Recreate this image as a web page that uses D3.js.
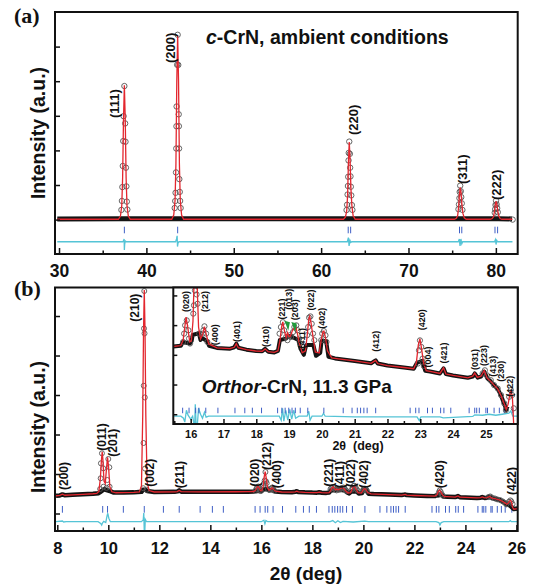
<!DOCTYPE html>
<html>
<head>
<meta charset="utf-8">
<script src="https://cdn.jsdelivr.net/npm/d3@7"></script>
<style>
body { margin: 0; background: #fff; }
text { font-family: "Liberation Sans", Arial, sans-serif; font-weight: bold; }
</style>
</head>
<body>
<svg id="fig" width="536" height="586"></svg>
<script>
// ---------- panel (a) : c-CrN, ambient conditions ----------
var tickA = [30, 40, 50, 60, 70, 80];
var minorA = [35, 45, 55, 65, 75];
var yTickA = [0, 1000, 2000, 3000, 4000, 5000];
var braggA = [37.48, 43.58, 63.10, 63.38, 75.84, 76.10, 79.90, 80.20];
var braggRowA = [-396, -205];
var bandA = [[29.8,20],[37.2,25],[37.75,25],[43.3,28],[43.9,28],[62.95,28],[63.55,28],[75.7,28],[76.2,28],[79.8,25],[80.3,25],[81.85,20]];
var calcA = [[29.8,10],
  [36.8,10],[37.03,100],[37.18,400],[37.28,1200],[37.38,2900],[37.48,3880],[37.58,2900],[37.68,1200],[37.78,400],[37.93,100],[38.16,10],
  [42.9,10],[43.13,130],[43.28,550],[43.38,1600],[43.48,4000],[43.58,5330],[43.68,4000],[43.78,1600],[43.88,550],[44.03,130],[44.26,10],
  [62.55,10],[62.78,70],[62.93,250],[63.03,700],[63.13,1700],[63.22,2240],[63.31,1750],[63.41,900],[63.52,400],[63.66,120],[63.9,10],
  [75.25,10],[75.48,40],[75.63,120],[75.73,350],[75.83,720],[75.92,930],[76.02,760],[76.12,420],[76.23,180],[76.38,50],[76.6,10],
  [79.35,10],[79.58,30],[79.73,80],[79.83,220],[79.93,420],[80.02,530],[80.12,430],[80.22,250],[80.33,110],[80.48,30],[80.7,10],
  [81.9,10]];
var obsA = [[37.48,3860],[37.39,2990],[37.57,2780],[37.35,2270],[37.61,2250],[37.30,1550],[37.66,1500],[37.25,940],[37.71,960],[37.20,540],[37.76,520],[37.14,280],[37.82,290],
  [43.58,5341],[43.52,4474],[43.65,4470],[43.46,3269],[43.70,3043],[43.44,2697],[43.72,2700],[43.42,2055],[43.74,2055],[43.39,1364],[43.77,1170],[43.34,775],[43.82,800],[43.30,537],[43.86,540],[43.24,335],[43.92,335],
  [63.22,2254],[63.16,1928],[63.29,1900],[63.14,1711],[63.32,1500],[63.10,1237],[63.36,1250],[63.07,971],[63.40,950],[63.03,725],[63.45,700],[62.97,428],[63.52,420],[62.91,277],[63.58,280],
  [75.92,980],[75.86,800],[75.99,820],[75.83,620],[76.04,650],[75.78,440],[76.10,470],[75.72,300],[76.17,280],
  [80.02,546],[79.96,422],[80.09,440],[79.92,300],[80.15,330],[79.87,200],[80.22,214],
  [81.92,0]];
var diffA = [[29.8,-640],[37.3,-640],[37.4,-600],[37.45,-560],[37.48,-880],[37.52,-700],[37.6,-620],[37.7,-640],
  [43.35,-640],[43.45,-560],[43.52,-470],[43.56,-780],[43.62,-680],[43.72,-640],
  [63.0,-640],[63.12,-520],[63.2,-760],[63.3,-600],[63.4,-660],[63.5,-640],
  [75.7,-640],[75.82,-560],[75.9,-760],[76.0,-560],[76.1,-700],[76.2,-640],
  [79.85,-640],[79.95,-580],[80.02,-720],[80.1,-600],[80.2,-640],[81.9,-640]];
var hklA = [["(111)",36.30,2936],["(200)",42.71,4526],["(220)",63.66,2445],["(311)",76.19,1029],["(222)",80.10,566]];

// ---------- panel (b) : orthorhombic CrN, 11.3 GPa ----------
var tickB = [8, 10, 12, 14, 16, 18, 20, 22, 24, 26];
var minorB = [9, 11, 13, 15, 17, 19, 21, 23, 25];
var yTickB = [0, 1000, 2000, 3000, 4000, 5000];
var braggB = [8.2, 9.78, 9.97, 10.59, 11.41, 12.16, 12.78, 13.6, 14.08, 14.51, 15.755, 15.95, 16.15, 16.25, 16.46, 16.83,
  17.35, 17.65, 17.88, 18.16, 18.65, 18.78, 18.88, 18.99, 19.09, 19.19, 19.34, 19.57, 20.06, 20.65, 20.92, 21.08, 21.18,
  21.28, 21.38, 21.64, 22.69, 22.86, 22.96, 23.22, 23.37, 23.62, 23.72, 23.93, 24.49, 24.66, 24.72, 24.80, 25.0, 25.05,
  25.25, 25.41, 25.56, 25.82];
var braggRowB = [20, 190];
var bandB = [[7.95,450],[8.1,458],[8.2,482],[8.3,462],[8.6,472],[9.0,485],[9.4,500],[9.62,515],[9.68,540],[9.85,620],[9.9,600],
  [10.1,560],[10.2,530],[10.6,530],[11.0,535],[11.3,548],[11.36,600],[11.46,600],[11.52,570],[11.8,545],[12.6,548],[12.72,560],
  [12.78,585],[12.86,552],[13.5,548],[15.0,551],[15.47,552],[15.7,556],[15.76,575],[15.98,567],[16.03,580],[16.06,610],
  [16.25,620],[16.3,585],[16.34,595],[16.5,580],[16.56,556],[16.8,545],[17.2,541],[17.33,548],[17.39,566],[17.45,546],
  [17.7,536],[18.0,529],[18.18,528],[18.27,540],[18.36,526],[18.55,522],[18.66,530],[18.72,585],[18.9,592],[19.0,605],
  [19.1,600],[19.28,585],[19.35,540],[19.45,510],[19.52,560],[19.74,560],[19.82,505],[19.95,520],[19.99,580],[20.13,580],
  [20.2,500],[20.4,492],[21.0,479],[21.5,467],[21.6,478],[21.64,482],[21.7,466],[22.0,456],[22.5,446],[22.8,440],[22.9,470],
  [23.06,480],[23.15,430],[23.3,426],[23.6,416],[23.71,442],[23.78,413],[24.0,406],[24.45,394],[24.6,400],[24.66,416],
  [24.75,395],[24.85,400],[24.95,425],[25.05,390],[25.15,375],[25.25,357],[25.36,338],[25.46,305],[25.56,262],[25.62,232],
  [25.66,250],[25.9,112],[26.05,125]];
var calcB = [[7.95,450],[8.1,458],[8.2,488],[8.3,462],[8.6,472],[9.0,485],[9.4,500],[9.55,510],[9.63,560],[9.69,900],[9.73,1350],
  [9.76,1565],[9.79,1350],[9.83,820],[9.88,760],[9.93,1150],[9.97,1423],[10.01,1180],[10.06,680],[10.14,550],[10.3,525],[10.6,530],
  [11.0,535],[11.22,548],[11.3,700],[11.35,2500],[11.38,4600],[11.41,5658],[11.44,4600],[11.47,2500],[11.52,800],[11.6,580],
  [11.8,545],[12.6,548],[12.7,556],[12.78,585],[12.86,553],[13.5,548],[15.0,551],[15.47,552],[15.7,557],[15.77,585],[15.82,650],
  [15.86,700],[15.91,650],[15.97,575],[16.02,580],[16.07,680],[16.11,920],[16.15,1058],[16.19,900],[16.24,650],[16.3,590],
  [16.36,610],[16.42,652],[16.48,610],[16.55,565],[16.8,545],[17.2,541],[17.33,548],[17.39,566],[17.45,546],[17.7,536],
  [18.0,529],[18.18,528],[18.27,540],[18.36,526],[18.55,522],[18.66,530],[18.72,580],[18.77,650],[18.81,676],[18.86,630],
  [18.91,598],[18.95,622],[19.0,602],[19.04,604],[19.09,628],[19.13,640],[19.19,655],[19.25,620],[19.31,570],[19.4,520],
  [19.5,530],[19.56,620],[19.6,690],[19.63,705],[19.67,670],[19.73,600],[19.8,525],[19.92,520],[19.98,585],[20.03,626],
  [20.06,630],[20.1,605],[20.17,530],[20.3,495],[20.5,490],[21.0,479],[21.5,467],[21.6,478],[21.64,482],[21.7,466],[22.0,456],
  [22.5,446],[22.8,440],[22.88,470],[22.94,560],[22.99,591],[23.04,540],[23.1,470],[23.18,430],[23.3,426],[23.6,416],
  [23.71,445],[23.78,413],[24.0,406],[24.45,394],[24.6,402],[24.66,418],[24.74,396],[24.85,402],[24.95,431],[25.04,392],
  [25.15,376],[25.25,357],[25.36,338],[25.46,305],[25.56,262],[25.62,234],[25.68,262],[25.73,312],[25.77,332],[25.81,290],
  [25.85,150],[25.9,108],[26.05,125]];
var obsB = [[9.75,1524],[9.71,1271],[9.80,1144],[9.70,891],[9.81,678],[9.68,620],[10.00,1380],[10.04,1170],[9.96,848],[10.05,678],[9.93,650],
  [11.41,5633],[11.40,4684],[11.42,4560],[11.39,3235],[11.43,2939],[11.38,1785],[11.44,1137],[11.37,640],[11.50,600],
  [15.77,575],[15.80,617],[15.83,659],[15.88,684],[15.93,634],[15.95,592],[15.98,567],
  [16.08,718],[16.10,760],[16.13,835],[16.16,1050],[16.18,815],[16.21,768],[16.26,617],
  [16.37,617],[16.39,634],[16.42,654],[16.47,617],[16.51,575],
  [18.71,617],[18.75,650],[18.81,675],[18.85,634],[18.91,600],[18.95,584],[19.02,609],[19.06,600],[19.12,625],[19.16,650],
  [19.22,659],[19.26,634],[19.31,592],[19.34,567],
  [19.55,609],[19.58,650],[19.61,698],[19.65,704],[19.69,667],[19.73,617],[19.77,584],
  [19.98,584],[20.01,617],[20.06,630],[20.11,609],[20.14,575],
  [22.93,466],[22.96,533],[22.99,583],[23.03,550],[23.07,491],[23.11,453],
  [24.90,416],[24.97,432],[25.03,407],
  [25.15,382],[25.25,357],[25.36,340],[25.46,307],[25.56,265],[25.61,231],
  [25.71,298],[25.76,332],[25.80,307],[25.85,240]];
var diffB = [[7.95,-208],[8.2,-190],[8.25,-215],[8.35,-208],[9.6,-208],[9.7,-250],[9.74,-292],[9.77,-240],[9.82,-200],[9.9,-230],
  [9.95,-60],[9.98,5],[10.02,-120],[10.08,-208],[11.3,-208],[11.37,-160],[11.39,13],[11.41,-460],[11.43,-460],[11.45,-150],
  [11.5,-208],[16.0,-208],[16.1,-170],[16.14,-260],[16.18,-180],[16.25,-208],[18.7,-208],[18.8,-180],[18.9,-235],[19.0,-185],
  [19.1,-230],[19.2,-200],[19.6,-215],[20.05,-195],[20.2,-208],[22.85,-208],[22.96,-230],[23.0,-290],[23.05,-230],[23.15,-208],
  [25.7,-208],[25.76,-180],[25.8,-208],[26.05,-208]];
var hklB = [["(200)",8.26,595],["(011)",9.74,1590],["(201)",10.17,1438],["(210)",11.02,4856],["(002)",11.64,678],
  ["(211)",12.78,638],["(020)",15.73,678],["(212)",16.21,1101],["(400)",16.60,638],["(221)",18.63,678],["(411)",19.06,638],
  ["(022)",19.52,663],["(402)",20.00,638],["(420)",22.98,638],["(422)",25.82,468]];

// ---------- inset of (b) ----------
var tickIn = [16, 17, 18, 19, 20, 21, 22, 23, 24, 25];
var minorIn = [15.5, 16.5, 17.5, 18.5, 19.5, 20.5, 21.5, 22.5, 23.5, 24.5, 25.5];
var yTickIn = [210, 360, 510, 660, 810];
var braggRowIn = [215, 243];
var diffIn = [[15.47,200],[15.7,200],[15.78,190],[15.82,170],[15.87,230],[15.92,205],[16.0,185],[16.06,200],[16.1,160],
  [16.12,140],[16.14,260],[16.17,140],[16.2,150],[16.24,240],[16.3,210],[16.36,190],[16.42,220],[16.47,195],[16.55,200],
  [18.7,200],[18.76,180],[18.8,240],[18.84,175],[18.9,230],[18.96,180],[19.02,235],[19.08,185],[19.14,230],[19.2,190],
  [19.3,200],[19.55,200],[19.6,225],[19.64,180],[19.7,200],[20.0,200],[20.05,215],[20.1,200],[21.0,197],[22.9,197],
  [22.97,178],[23.02,197],[23.6,197],[23.7,192],[24.6,199],[24.66,207],[24.9,205],[25.1,210],[25.3,205],[25.5,210],
  [25.7,215],[25.76,226],[25.82,200],[25.97,200]];
var hklIn = [["(020)",15.86,726],["(212)",16.44,726],["(400)",16.74,558],["(401)",17.41,575],["(410)",18.30,550],
  ["(221)",18.78,688],["(013)",18.98,738],["(203)",19.17,684],["(411)",19.39,542],["(022)",19.65,734],["(402)",20.01,642],
  ["(412)",21.64,525],["(420)",23.03,634],["(004)",23.24,446],["(421)",23.72,466],["(031)",24.66,433],["(223)",24.95,453],
  ["(413)",25.20,399],["(230)",25.46,374],["(422)",25.74,298]];
var arrowsIn = [[18.95,682,632],[19.16,676,626]];

// ---------- layout ----------
var svg = d3.select("#fig");
var L = 55, R = 517.7;
var xA = d3.scaleLinear().domain([29.54, 82.5]).range([L, R]);
var yA = d3.scaleLinear().domain([-994, 6000]).range([254, 12]);
var xB = d3.scaleLinear().domain([7.91, 26.05]).range([L, R]);
var yB = d3.scaleLinear().domain([-443, 5722]).range([531, 287.5]);
var xI = d3.scaleLinear().domain([15.47, 25.97]).range([173.3, R]);
var yI = d3.scaleLinear().domain([160.7, 850]).range([424, 287.5]);

var RED = "#e3262e", CYAN = "#55c4d6", BLUE = "#3f5fc6";

function clipBox(id, x0, y0, x1, y1) {
  svg.append("clipPath").attr("id", id).append("rect")
    .attr("x", x0).attr("y", y0).attr("width", x1 - x0).attr("height", y1 - y0);
  return svg.append("g").attr("clip-path", "url(#" + id + ")");
}

// draws the pattern layers into a clipped group
function drawPattern(g, x, y, o) {
  var line = d3.line().x(function(d){ return x(d[0]); }).y(function(d){ return y(d[1]); });
  g.append("path").datum(o.diff).attr("d", line).attr("fill", "none").attr("stroke", CYAN).attr("stroke-width", 1.3);
  g.selectAll(null).data(o.bragg).enter().append("line")
    .attr("x1", function(d){ return x(d); }).attr("x2", function(d){ return x(d); })
    .attr("y1", y(o.row[0])).attr("y2", y(o.row[1]))
    .attr("stroke", BLUE).attr("stroke-width", 1);
  g.append("path").datum(o.band).attr("d", line).attr("fill", "none")
    .attr("stroke", "#141414").attr("stroke-width", o.bandW).attr("stroke-linejoin", "round");
  g.selectAll(null).data(o.obs).enter().append("circle")
    .attr("cx", function(d){ return x(d[0]); }).attr("cy", function(d){ return y(d[1]); })
    .attr("r", o.r).attr("fill", "none").attr("stroke", "#555").attr("stroke-width", 0.9);
  g.append("path").datum(o.calc).attr("d", line).attr("fill", "none").attr("stroke", RED).attr("stroke-width", 1.3);
  g.selectAll(null).data(o.hkl).enter().append("text")
    .attr("transform", function(d){ return "translate(" + x(d[1]) + "," + y(d[2]) + ") rotate(-90)"; })
    .attr("dy", "0.36em").attr("font-size", o.fs).attr("fill", "#111").text(function(d){ return d[0]; });
}

function axes(x, y, x0, y0, y1, major, minor, yt, fs, pad, big, small) {
  var ax = svg.append("g").attr("transform", "translate(0," + y1 + ")")
    .call(d3.axisBottom(x).tickValues(major).tickSize(-big).tickPadding(pad).tickFormat(d3.format("d")));
  ax.select(".domain").remove();
  ax.attr("font-family", "Liberation Sans, Arial, sans-serif").attr("font-size", fs).attr("font-weight", "bold").attr("color", "#111");
  ax.selectAll("line").attr("stroke-width", 1.5);
  var mx = svg.append("g").attr("transform", "translate(0," + y1 + ")")
    .call(d3.axisBottom(x).tickValues(minor).tickSize(-small).tickFormat(""));
  mx.select(".domain").remove();
  mx.attr("color", "#111").selectAll("line").attr("stroke-width", 1.5);
  var ay = svg.append("g").attr("transform", "translate(" + x0 + ",0)")
    .call(d3.axisLeft(y).tickValues(yt).tickSize(-big + 1).tickFormat(""));
  ay.select(".domain").remove();
  ay.attr("color", "#111").selectAll("line").attr("stroke-width", 1.5);
}

function frame(x0, y0, x1, y1) {
  svg.append("rect").attr("x", x0).attr("y", y0).attr("width", x1 - x0).attr("height", y1 - y0)
    .attr("fill", "none").attr("stroke", "#111").attr("stroke-width", 2);
}

// ---- panel (a)
var gA = clipBox("clipA", L, 12, R, 254);
drawPattern(gA, xA, yA, { diff: diffA, bragg: braggA, row: braggRowA, band: bandA, bandW: 5, obs: obsA, r: 2.7,
  calc: calcA, hkl: hklA, fs: 13 });
frame(L, 12, R, 254);
axes(xA, yA, L, 12, 254, tickA, minorA, yTickA, 17.5, 10.5, 6, 3.5);
svg.append("text").attr("x", 206).attr("y", 44).attr("font-size", 19.5).attr("fill", "#111")
  .call(function(t){ t.append("tspan").attr("font-style", "italic").text("c"); t.append("tspan").text("-CrN, ambient conditions"); });
svg.append("text").attr("x", 14).attr("y", 23).attr("font-size", 22).attr("fill", "#111")
  .style("font-family", "'Liberation Serif', 'Times New Roman', serif").text("(a)");
svg.append("text").attr("transform", "translate(37.5,133) rotate(-90)").attr("text-anchor", "middle").attr("dy", "0.36em")
  .attr("font-size", 19.5).attr("fill", "#111").text("Intensity (a.u.)");

// ---- panel (b) main
var gB = clipBox("clipB", L, 287.5, R, 531);
drawPattern(gB, xB, yB, { diff: diffB, bragg: braggB, row: braggRowB, band: bandB, bandW: 4.5, obs: obsB, r: 2.5,
  calc: calcB, hkl: hklB, fs: 12 });
frame(L, 287.5, R, 531);
axes(xB, yB, L, 287.5, 531, tickB, minorB, yTickB, 16.5, 10.8, 6, 3.5);
svg.append("text").attr("x", 14).attr("y", 296).attr("font-size", 22).attr("fill", "#111")
  .style("font-family", "'Liberation Serif', 'Times New Roman', serif").text("(b)");
svg.append("text").attr("transform", "translate(37.5,427) rotate(-90)").attr("text-anchor", "middle").attr("dy", "0.36em")
  .attr("font-size", 19.5).attr("fill", "#111").text("Intensity (a.u.)");
svg.append("text").attr("x", 306).attr("y", 580).attr("text-anchor", "middle").attr("font-size", 19).attr("fill", "#111")
  .text("2\u03b8 (deg)");

// ---- inset
svg.append("rect").attr("x", 173.3).attr("y", 287.5).attr("width", R - 173.3).attr("height", 424 - 287.5).attr("fill", "#fff");
var gI = clipBox("clipI", 173.3, 287.5, R, 424);
drawPattern(gI, xI, yI, { diff: diffIn, bragg: braggB.filter(function(d){ return d > 15.47; }), row: braggRowIn,
  band: bandB.filter(function(d){ return d[0] >= 15.47 && d[0] <= 25.66; }), bandW: 4, obs: obsB, r: 2.6,
  calc: calcB, hkl: hklIn, fs: 9 });
gI.selectAll(null).data(arrowsIn).enter().append("path")
  .attr("d", function(d){
    var x = xI(d[0]), t = yI(d[1]), b = yI(d[2]);
    return "M" + (x - 3) + "," + t + "L" + (x + 2.5) + "," + (t + 1.5) + "L" + (x + 0.8) + "," + b + "Z";
  })
  .attr("fill", "#1f9a3c");
frame(173.3, 287.5, R, 424);
axes(xI, yI, 173.3, 287.5, 424, tickIn, minorIn, yTickIn, 11, 6.5, 5, 3);
svg.append("text").attr("x", 201.7).attr("y", 393).attr("font-size", 19).attr("fill", "#111")
  .call(function(t){ t.append("tspan").attr("font-style", "italic").text("Orthor"); t.append("tspan").text("-CrN, 11.3 GPa"); });
svg.append("text").attr("x", 358).attr("y", 450).attr("text-anchor", "middle").attr("font-size", 12.5).attr("fill", "#111")
  .style("white-space", "pre").text("2\u03b8  (deg)");
</script>
</body>
</html>
